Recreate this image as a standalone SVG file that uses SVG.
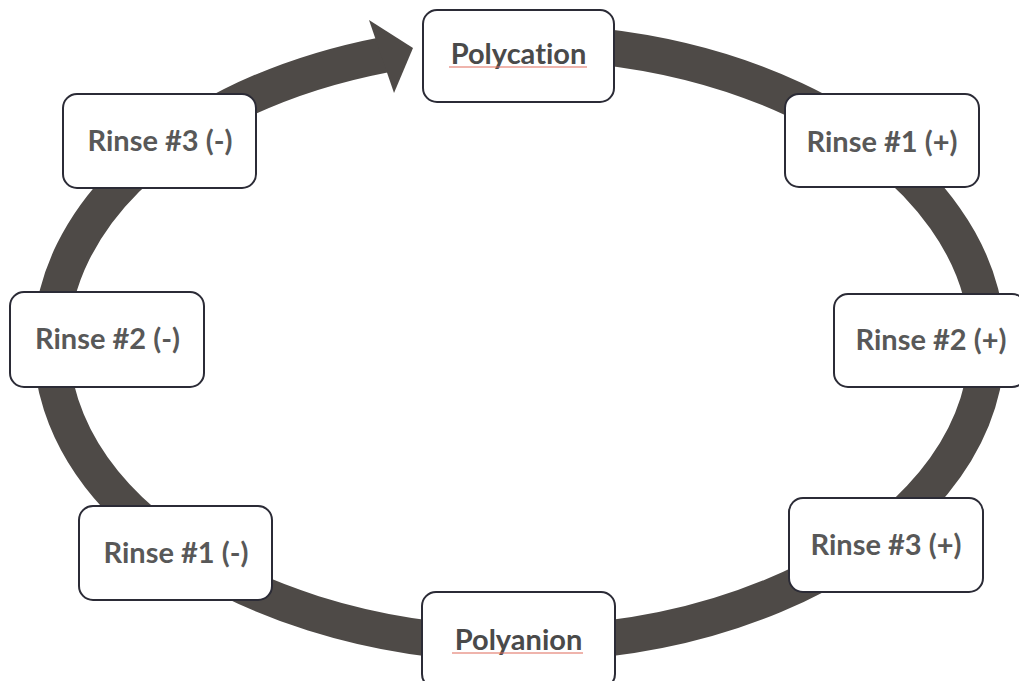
<svg xmlns="http://www.w3.org/2000/svg" width="1019" height="681" viewBox="0 0 1019 681">
  <style>
    .box { fill: #ffffff; stroke: #2b2b36; stroke-width: 2; }
    .lbl { font-family: Lato, "Open Sans", "Liberation Sans", sans-serif; font-weight: 700; font-size: 29px; fill: #585858; text-anchor: middle; font-variant-ligatures: none; }
    .poly { fill: #4a4a4a; }
    .ring { fill: none; stroke: #4e4a47; stroke-width: 36; }
    .head { fill: #4e4a47; }
    .spell { stroke: #e06a5a; stroke-width: 1.2; }
  </style>
  <rect width="1019" height="681" fill="#ffffff"/>
  <g id="connectors">
    <path class="ring" d="M 600 46.5 A 468 301 0 1 1 384 54.8"/>
    <polygon class="head" points="369,20 413,48 394,93"/>
  </g>
  <g id="polycation">
    <rect class="box" x="423" y="10" width="191" height="92" rx="14"/>
    <text class="lbl poly" x="518.5" y="64">Polycation</text>
    <line class="spell" x1="449" y1="67" x2="587" y2="67"/>
  </g>
  <g id="rinse1plus">
    <rect class="box" x="785" y="94" width="194" height="93" rx="14"/>
    <text class="lbl" x="882" y="152">Rinse #1 (+)</text>
  </g>
  <g id="rinse2plus">
    <rect class="box" x="834" y="294" width="192" height="93" rx="14"/>
    <text class="lbl" x="931" y="350">Rinse #2 (+)</text>
  </g>
  <g id="rinse3plus">
    <rect class="box" x="789" y="498" width="194" height="94" rx="14"/>
    <text class="lbl" x="886" y="555">Rinse #3 (+)</text>
  </g>
  <g id="polyanion">
    <rect class="box" x="422" y="592" width="193" height="96" rx="14"/>
    <text class="lbl poly" x="518.5" y="650">Polyanion</text>
    <line class="spell" x1="452" y1="653" x2="583" y2="653"/>
  </g>
  <g id="rinse1minus">
    <rect class="box" x="79" y="506" width="193" height="94" rx="14"/>
    <text class="lbl" x="176" y="563">Rinse #1 (-)</text>
  </g>
  <g id="rinse2minus">
    <rect class="box" x="10" y="292" width="194" height="95" rx="14"/>
    <text class="lbl" x="107.5" y="349">Rinse #2 (-)</text>
  </g>
  <g id="rinse3minus">
    <rect class="box" x="63" y="94" width="193" height="94" rx="14"/>
    <text class="lbl" x="160" y="151">Rinse #3 (-)</text>
  </g>
</svg>
